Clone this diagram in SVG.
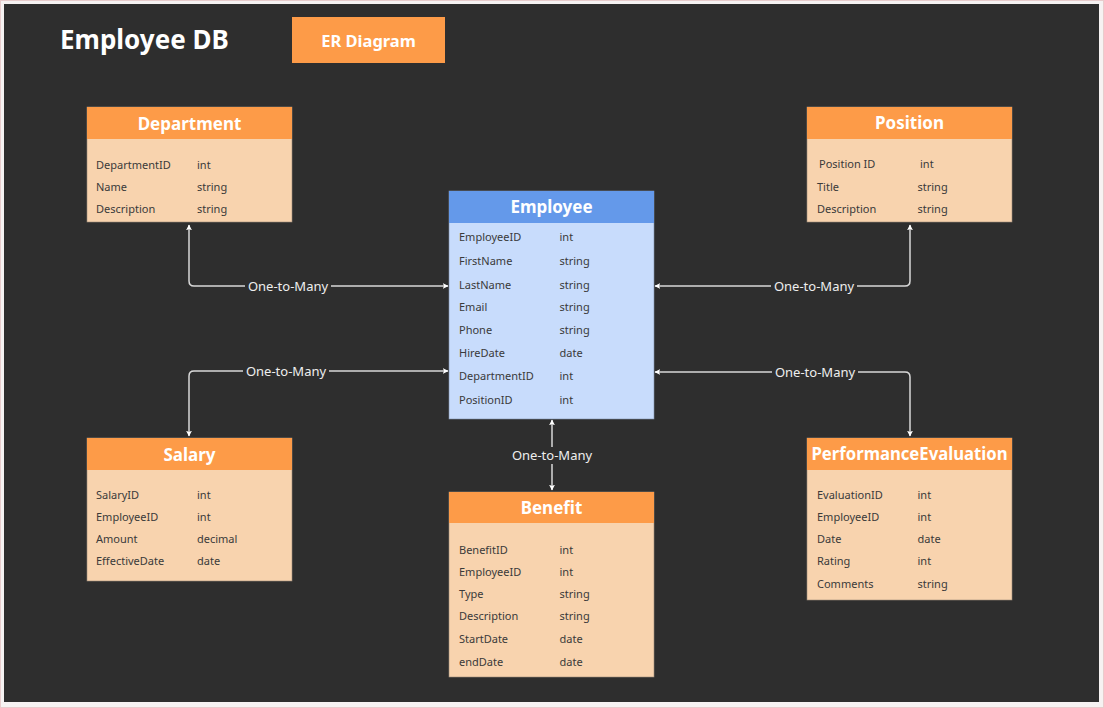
<svg xmlns="http://www.w3.org/2000/svg" width="1104" height="708" viewBox="0 0 1104 708">
<defs>
<style>
.t{font-family:"Noto Sans","Open Sans","DejaVu Sans",sans-serif}
.hd{font-family:"Noto Sans","Open Sans","DejaVu Sans",sans-serif;font-size:17px;font-weight:bold;fill:#ffffff;text-anchor:middle}
.r{font-family:"Noto Sans","Open Sans","DejaVu Sans",sans-serif;font-size:11px;fill:#3a3a3a}
.lbl{font-family:"Noto Sans","Open Sans","DejaVu Sans",sans-serif;font-size:13px;fill:#eeeeee;text-anchor:middle}
.oh{fill:#fd9b48}
.ob{fill:#f8d3ae;stroke:#9a8a7a;stroke-width:0.6}
.bh{fill:#6499ea}
.bb{fill:#c8dcfc;stroke:#8090a8;stroke-width:0.6}
.c{fill:none;stroke:#d8d8d8;stroke-width:1.5}
.gap{fill:#2e2e2e}
</style>
<marker id="ah" viewBox="0 0 10 10" refX="9" refY="5" markerWidth="6" markerHeight="6" orient="auto-start-reverse" markerUnits="userSpaceOnUse">
<path d="M0,0 L10,5 L0,10 L2.5,5 Z" fill="#ffffff"/>
</marker>
</defs>
<rect x="0" y="0" width="1104" height="708" fill="#f6f2f2"/>
<rect x="4" y="4" width="1095" height="698" fill="#2e2e2e"/>
<rect x="0.5" y="0.5" width="1103" height="707" fill="none" stroke="#e8cccc" stroke-width="1"/>

<g id="title">
<text class="t" x="60" y="49" font-size="26" font-weight="bold" fill="#ffffff">Employee DB</text>
</g>
<g id="er-diagram">
<rect x="292" y="17" width="153" height="46" fill="#fd9b48"/>
<text class="hd" x="368.5" y="47" style="font-size:16.5px">ER Diagram</text>
</g>

<g id="connectors">
<path class="c" d="M189,225 V281 Q189,286 194,286 H448" marker-start="url(#ah)" marker-end="url(#ah)"/>
<rect class="gap" x="245" y="277" width="86" height="18"/>
<text class="lbl" x="288" y="290.5">One-to-Many</text>

<path class="c" d="M910,225 V281 Q910,286 905,286 H655" marker-start="url(#ah)" marker-end="url(#ah)"/>
<rect class="gap" x="771" y="277" width="86" height="18"/>
<text class="lbl" x="814" y="290.5">One-to-Many</text>

<path class="c" d="M189,436 V376 Q189,371 194,371 H448" marker-start="url(#ah)" marker-end="url(#ah)"/>
<rect class="gap" x="243" y="362" width="86" height="18"/>
<text class="lbl" x="286" y="375.5">One-to-Many</text>

<path class="c" d="M910,436 V377 Q910,372 905,372 H655" marker-start="url(#ah)" marker-end="url(#ah)"/>
<rect class="gap" x="772" y="363" width="86" height="18"/>
<text class="lbl" x="815" y="377">One-to-Many</text>

<path class="c" d="M552,420 V490" marker-start="url(#ah)" marker-end="url(#ah)"/>
<rect class="gap" x="509" y="447" width="86" height="17"/>
<text class="lbl" x="552" y="460">One-to-Many</text>
</g>

<g id="department">
<rect class="ob" x="87" y="107" width="205" height="115"/>
<rect class="oh" x="87" y="107" width="205" height="32"/>
<text class="hd" x="189.5" y="130">Department</text>
<text class="r" x="96" y="169">DepartmentID</text><text class="r" x="197" y="169">int</text>
<text class="r" x="96" y="191">Name</text><text class="r" x="197" y="191">string</text>
<text class="r" x="96" y="213">Description</text><text class="r" x="197" y="213">string</text>
</g>

<g id="position">
<rect class="ob" x="807" y="107" width="205" height="115"/>
<rect class="oh" x="807" y="107" width="205" height="32"/>
<text class="hd" x="909.5" y="129">Position</text>
<text class="r" x="819" y="168">Position ID</text><text class="r" x="920" y="168">int</text>
<text class="r" x="817" y="191">Title</text><text class="r" x="917.5" y="191">string</text>
<text class="r" x="817" y="213">Description</text><text class="r" x="917.5" y="213">string</text>
</g>

<g id="employee">
<rect class="bb" x="449" y="191" width="205" height="228"/>
<rect class="bh" x="449" y="191" width="205" height="32"/>
<text class="hd" x="551.5" y="213">Employee</text>
<text class="r" x="459" y="240.5">EmployeeID</text><text class="r" x="559.5" y="240.5">int</text>
<text class="r" x="459" y="265">FirstName</text><text class="r" x="559.5" y="265">string</text>
<text class="r" x="459" y="288.5">LastName</text><text class="r" x="559.5" y="288.5">string</text>
<text class="r" x="459" y="311">Email</text><text class="r" x="559.5" y="311">string</text>
<text class="r" x="459" y="334">Phone</text><text class="r" x="559.5" y="334">string</text>
<text class="r" x="459" y="357">HireDate</text><text class="r" x="559.5" y="357">date</text>
<text class="r" x="459" y="380">DepartmentID</text><text class="r" x="559.5" y="380">int</text>
<text class="r" x="459" y="404">PositionID</text><text class="r" x="559.5" y="404">int</text>
</g>

<g id="salary">
<rect class="ob" x="87" y="438" width="205" height="143"/>
<rect class="oh" x="87" y="438" width="205" height="32"/>
<text class="hd" x="189.5" y="460.5">Salary</text>
<text class="r" x="96" y="499">SalaryID</text><text class="r" x="197" y="499">int</text>
<text class="r" x="96" y="521">EmployeeID</text><text class="r" x="197" y="521">int</text>
<text class="r" x="96" y="543">Amount</text><text class="r" x="197" y="543">decimal</text>
<text class="r" x="96" y="565">EffectiveDate</text><text class="r" x="197" y="565">date</text>
</g>

<g id="benefit">
<rect class="ob" x="449" y="492" width="205" height="185"/>
<rect class="oh" x="449" y="492" width="205" height="31"/>
<text class="hd" x="551.5" y="514">Benefit</text>
<text class="r" x="459" y="553.5">BenefitID</text><text class="r" x="559.5" y="553.5">int</text>
<text class="r" x="459" y="575.5">EmployeeID</text><text class="r" x="559.5" y="575.5">int</text>
<text class="r" x="459" y="597.5">Type</text><text class="r" x="559.5" y="597.5">string</text>
<text class="r" x="459" y="620">Description</text><text class="r" x="559.5" y="620">string</text>
<text class="r" x="459" y="642.5">StartDate</text><text class="r" x="559.5" y="642.5">date</text>
<text class="r" x="459" y="665.5">endDate</text><text class="r" x="559.5" y="665.5">date</text>
</g>

<g id="performance-evaluation">
<rect class="ob" x="807" y="438" width="205" height="162"/>
<rect class="oh" x="807" y="438" width="205" height="32"/>
<text class="hd" x="909.5" y="460" textLength="196" lengthAdjust="spacingAndGlyphs">PerformanceEvaluation</text>
<text class="r" x="817" y="499">EvaluationID</text><text class="r" x="917.5" y="499">int</text>
<text class="r" x="817" y="521">EmployeeID</text><text class="r" x="917.5" y="521">int</text>
<text class="r" x="817" y="543">Date</text><text class="r" x="917.5" y="543">date</text>
<text class="r" x="817" y="565">Rating</text><text class="r" x="917.5" y="565">int</text>
<text class="r" x="817" y="588">Comments</text><text class="r" x="917.5" y="588">string</text>
</g>
</svg>
